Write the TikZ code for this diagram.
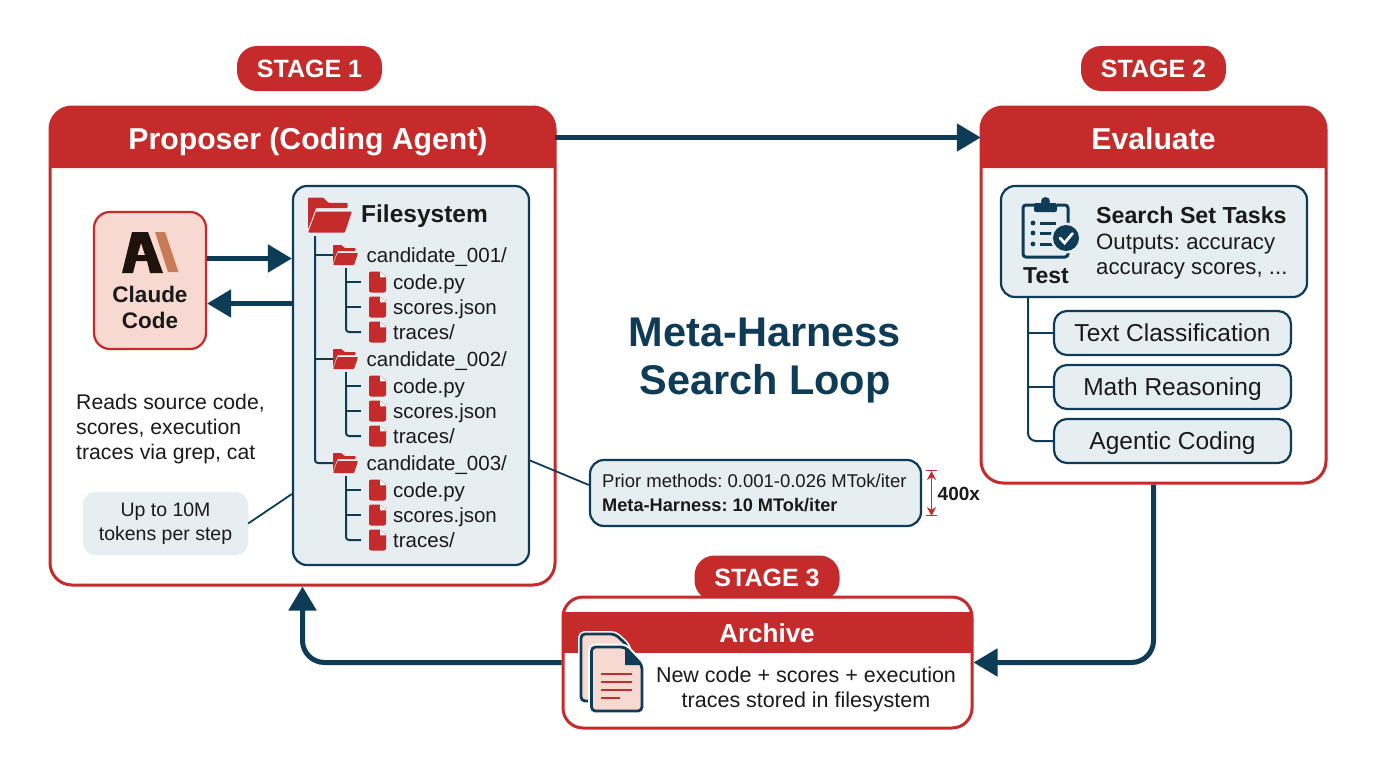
\documentclass[tikz,border=0pt]{standalone}
\usepackage{fontspec}
\setmainfont{Liberation Sans}
\usepackage{xcolor}
\usetikzlibrary{calc,arrows.meta,positioning}
\frenchspacing

\definecolor{hred}{HTML}{C42B2A}
\definecolor{hnavy}{HTML}{0E3B55}
\definecolor{hpale}{HTML}{E7EEF2}
\definecolor{hpink}{HTML}{F8D9D2}
\definecolor{hink}{HTML}{1A1A1A}
\definecolor{hclay}{HTML}{C97B55}

\tikzset{
	stagepill/.style={fill=hred, text=white, rounded corners=20pt, minimum width=145pt, minimum height=45pt, font=\fontsize{25}{30}\selectfont\bfseries},
	panel/.style={draw=hred, line width=3pt, fill=white, rounded corners=22pt},
	headtext/.style={text=white, text height=25pt, text depth=2pt, font=\fontsize{30.2}{34}\selectfont\bfseries},
	softbox/.style={draw=hnavy, line width=2.2pt, fill=hpale, rounded corners=14pt},
	taskpill/.style={softbox, rounded corners=13pt, minimum width=237pt, minimum height=44pt, text height=19pt, text depth=3pt, font=\fontsize{24.5}{28}\selectfont, text=hink},
	flow/.style={draw=hnavy, line width=5pt, -{Triangle[length=24pt,width=27pt]}},
	treeline/.style={draw=hnavy, line width=2pt},
	treetext/.style={anchor=west, inner sep=0pt, text=hink, text height=15pt, text depth=4.5pt, font=\fontsize{20.5}{24}\selectfont},
	fileicon/.style={fill=hred, rounded corners=2pt, minimum width=17pt, minimum height=21pt, inner sep=0pt},
	foldericon/.style={inner sep=0pt, minimum width=25pt, minimum height=20pt},
	pics/foldersym/.style={code={
		\fill[hred, rounded corners=0.8pt] (-12.5,8) -- (-12.5,-10) -- (-4,-10) -- (-1,-7) -- (10,-7) -- (10,-4) -- (-8,-4) -- cycle;
		\fill[hred, rounded corners=0.8pt] (-8,-2) -- (12.5,-2) -- (8.5,10) -- (-12.5,10) -- cycle;
	}},
}

\begin{document}
\begin{tikzpicture}[x=1pt, y=-1pt, >=Stealth]
	\useasboundingbox (0,0) rectangle (1376,768);
	\fill[white] (0,0) rectangle (1376,768);

	% Stage badges
	\node[stagepill] (stage1) at (309.5,68.5) {STAGE 1};
	\node[stagepill] (stage2) at (1153.5,68.5) {STAGE 2};
	\node[stagepill] (stage3) at (767,578) {STAGE 3};

	% Proposer panel
	\node[panel, minimum width=505pt, minimum height=478pt] (proposer) at (302.5,346) {};
	\fill[hred] (50,168) [rounded corners=22pt] -- (50,107) -- (555,107) [sharp corners] -- (555,168) -- cycle;
	\node[headtext, minimum width=505pt, minimum height=61pt] (prophead) at (308,137.5) {Proposer (Coding Agent)};

	% Evaluate panel
	\node[panel, minimum width=345pt, minimum height=376pt] (evaluate) at (1153.5,295) {};
	\fill[hred] (981,168) [rounded corners=22pt] -- (981,107) -- (1326,107) [sharp corners] -- (1326,168) -- cycle;
	\node[headtext, minimum width=345pt, minimum height=61pt] (evalhead) at (1153.5,137.5) {Evaluate};

	% Archive panel
	\node[panel, rounded corners=20pt, minimum width=409pt, minimum height=131pt] (archive) at (767.5,662.5) {};
	\fill[hred] (563,612) rectangle (972,653);
	\node[text=white, font=\fontsize{26}{30}\selectfont\bfseries] (archhead) at (767,633) {Archive};
	\node[align=center, text=hink, font=\fontsize{21.5}{25}\selectfont] (archtext) at (806,689) {New code + scores + execution\\traces stored in filesystem};

	% Archive pages
	\draw[white, line width=6pt, rounded corners=4pt] (581,634) -- (615,634) -- (628,646) -- (628,701) -- (581,701) -- cycle;
	\draw[hnavy, line width=2.8pt, fill=hpink, rounded corners=4pt] (581,634) -- (615,634) -- (628,646) -- (628,701) -- (581,701) -- cycle;
	\draw[white, line width=7pt, rounded corners=4pt] (591.5,647) -- (625,647) -- (642,665) -- (642,711) -- (591.5,711) -- cycle;
	\draw[hnavy, line width=2.8pt, fill=hpink, rounded corners=4pt] (591.5,647) -- (625,647) -- (642,665) -- (642,711) -- (591.5,711) -- cycle;
	\fill[hnavy] (625,647) -- (642,665) -- (625,665) -- cycle;
	\foreach \yl/\xl in {674/632,682/632,690/632,698/620}
		\draw[hred, line width=2.8pt] (601,\yl) -- (\xl,\yl);

	% Main loop
	\draw[flow] (555,137.5) -- (evalhead.west);
	\draw[flow, rounded corners=22pt] (evaluate.south) |- (archive.east);
	\draw[flow, rounded corners=22pt] (archive.west) -| (proposer.south);

	% Claude Code box
	\node[draw=hred, line width=2.2pt, fill=hpink, rounded corners=16pt, minimum width=112pt, minimum height=137pt] (claude) at (150,280.5) {};
	\fill[even odd rule, black!85!hclay] (132,232) -- (148,232) -- (163,273) -- (150,273) -- (147,261) -- (136,261) -- (133,273) -- (122,273) -- cycle
		(137.5,255) -- (145,255) -- (141,243) -- cycle;
	\fill[hclay] (155,232) -- (165,232) -- (178.5,272) -- (168,272) -- cycle;
	\node[align=center, text=hink, font=\fontsize{22.5}{26}\selectfont\bfseries] (claudetext) at (150,307) {Claude\\Code};

	% Filesystem box
	\node[softbox, minimum width=236pt, minimum height=379pt] (files) at (411,375.5) {};
	\pic[scale=1.75] at (330,215) {foldersym};
	\node[anchor=west, inner sep=0pt, text=hink, font=\fontsize{24.5}{30}\selectfont\bfseries] (filestitle) at (361,216.5) {Filesystem};
	\foreach \yc/\num in {255/001,359/002,463/003}{
		\node[foldericon] (fold\num) at (345.5,\yc) {};
		\pic at (fold\num) {foldersym};
		\node[treetext] (cand\num) at (366.5,\yc+2) {candidate\_\num/};
		\foreach \dy/\fname/\k in {27/code.py/a,52/scores.json/b,77/traces{/}/c}{
			\node[fileicon] (icon\num\k) at (377.5,\yc+\dy) {};
			\fill[hpale] ($(icon\num\k.north east)+(-6,-0.5)$) -- ($(icon\num\k.north east)+(0.5,-0.5)$) -- ($(icon\num\k.north east)+(0.5,6)$) -- cycle;
			\fill[white] ($(icon\num\k.north east)+(-6,0)$) -- ($(icon\num\k.north east)+(0,6)$) -- ($(icon\num\k.north east)+(-6,6)$) -- cycle;
			\node[treetext] (name\num\k) at (393,\yc+\dy+2) {\fname};
		}
		\draw[treeline] (346,\yc+13) -- (346,\yc+27) -- (361,\yc+27);
		\draw[treeline] (346,\yc+52) -- (361,\yc+52);
		\draw[treeline, rounded corners=3pt] (346,\yc+27) -- (346,\yc+77) -- (361,\yc+77);
	}

	% Filesystem tree
	\coordinate (trunk) at (315,236);
	\draw[treeline] (trunk |- fold001) -- (fold001.west);
	\draw[treeline] (trunk |- fold002) -- (fold002.west);
	\draw[treeline, rounded corners=3pt] (trunk) |- (fold003.west);

	% Claude arrows
	\draw[flow] ([yshift=22pt]claude.east) -- ([yshift=22pt]claude.east -| files.west);
	\draw[flow] ([yshift=-23pt]claude.east -| files.west) -- ([yshift=-23pt]claude.east);

	% Notes on the left
	\node[anchor=west, align=left, inner sep=0pt, text=hink, font=\fontsize{21.2}{25}\selectfont] (readnote) at (76,429) {Reads source code,\\scores, execution\\traces via grep, cat};
	\node[fill=hpale, rounded corners=12pt, minimum width=165pt, minimum height=63pt, align=center, text=hink, font=\fontsize{19.5}{23.5}\selectfont] (tokens) at (165.5,523.5) {Up to 10M\\tokens per step};
	\draw[hnavy, line width=1.8pt] (tokens.east) -- ([yshift=-118.5pt]files.west);

	% Title
	\node[align=center, text=hnavy, font=\fontsize{41.5}{48}\selectfont\bfseries] (title) at (765,361) {Meta-Harness\\Search Loop};

	% Cost callout
	\node[softbox, minimum width=331pt, minimum height=66pt] (cost) at (755.5,493) {};
	\node[anchor=west, inner sep=0pt, text=hink, font=\fontsize{18.5}{22}\selectfont] (costa) at (602,481) {Prior methods: 0.001-0.026 MTok/iter};
	\node[anchor=west, inner sep=0pt, text=hink, font=\fontsize{18.2}{22}\selectfont\bfseries] (costb) at (602,505) {Meta-Harness: 10 MTok/iter};
	\draw[hnavy, line width=1.8pt] ([yshift=-85pt]files.east) -- ([yshift=8pt]cost.west);
	\node[anchor=west, inner sep=0pt, text=hink, font=\fontsize{19}{22}\selectfont\bfseries] (ratio) at (937.5,494) {400x};
	\draw[hred, line width=1.8pt, {Stealth[length=9pt,width=9pt]}-{Stealth[length=9pt,width=9pt]}] ([xshift=-6pt,yshift=23pt]ratio.west) -- ([xshift=-6pt,yshift=-22pt]ratio.west);
	\draw[hred, line width=1.6pt] (926,470.5) -- (937,470.5) (926,515.5) -- (937,515.5);

	% Search set box
	\node[softbox, minimum width=306pt, minimum height=111pt] (search) at (1154,241.5) {};
	\node[anchor=west, inner sep=0pt, text=hink, font=\fontsize{23.2}{28}\selectfont\bfseries] (searchtitle) at (1096,215.5) {Search Set Tasks};
	\node[anchor=west, align=left, inner sep=0pt, text=hink, font=\fontsize{22.2}{25}\selectfont] (searchtext) at (1096,257) {Outputs: accuracy\\accuracy scores, ...};

	% Clipboard icon
	\draw[hnavy, line width=3pt, rounded corners=3pt] (1035,205) -- (1023,205) -- (1023,257) -- (1068,257) -- (1068,250);
	\draw[hnavy, line width=3pt, rounded corners=3pt] (1057,205) -- (1068,205) -- (1068,225);
	\fill[hnavy, rounded corners=2pt] (1034,203) rectangle (1057,212);
	\fill[hnavy] (1045.5,201.5) circle (4.5pt);
	\foreach \yi in {223,233,244}{
		\fill[hnavy] (1033,\yi) circle (2.4pt);
		\draw[hnavy, line width=3pt] (1040,\yi) -- (1056,\yi);
	}
	\fill[hpale] (1066,238) circle (15.5pt);
	\fill[hnavy] (1066,238) circle (13pt);
	\draw[white, line width=2.8pt, line cap=round] (1060,238) -- (1064.5,243) -- (1072.5,233.5);
	\node[text=hink, font=\fontsize{23}{28}\selectfont\bfseries] (testlabel) at (1046,276) {Test};

	% Task list
	\node[taskpill] (task1) at (1172.5,333) {Text Classification};
	\node[taskpill] (task2) at (1172.5,387) {Math Reasoning};
	\node[taskpill] (task3) at (1172.5,441) {Agentic Coding};
	\coordinate (taskroot) at (search.south -| 1028,0);
	\draw[treeline] (taskroot |- task1) -- (task1.west);
	\draw[treeline] (taskroot |- task2) -- (task2.west);
	\draw[treeline, rounded corners=8pt] (taskroot) |- (task3.west);
\end{tikzpicture}
\end{document}
